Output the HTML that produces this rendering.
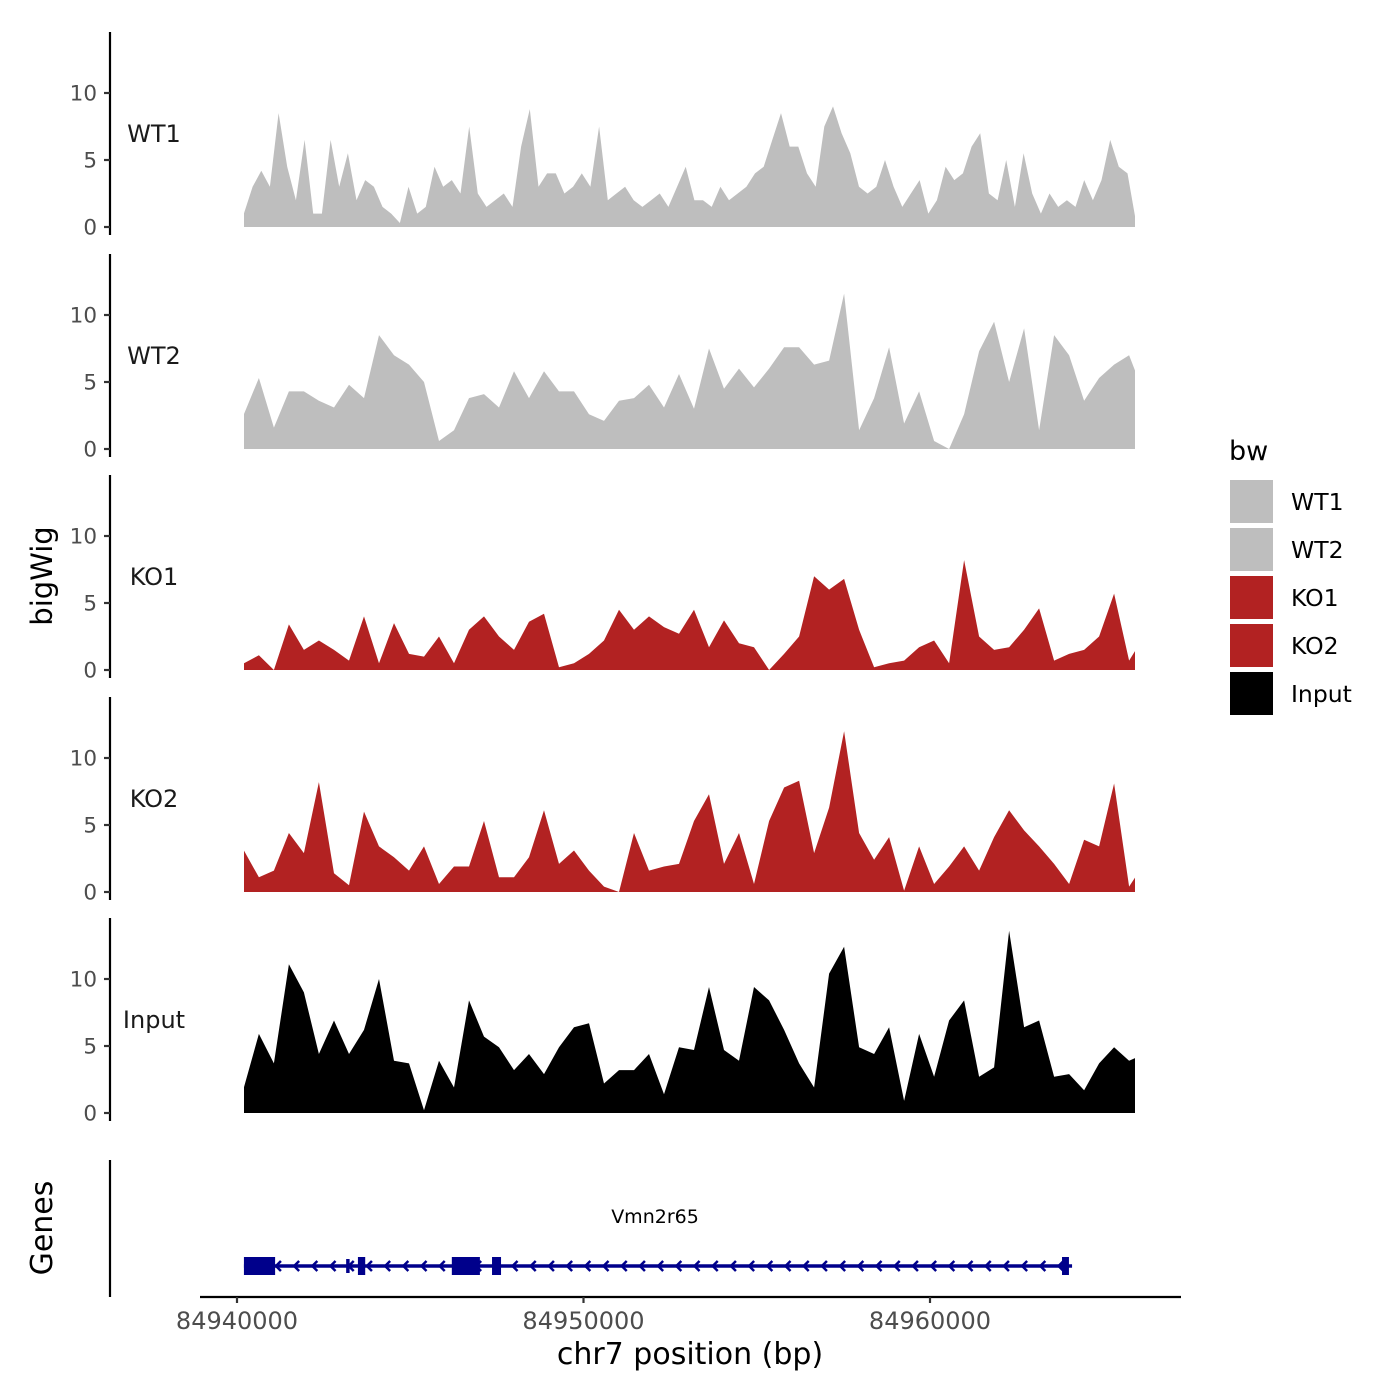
<!DOCTYPE html>
<html><head><meta charset="utf-8"><style>
html,body{margin:0;padding:0;background:#fff;}
svg{display:block;font-family:"DejaVu Sans","Liberation Sans",sans-serif;}
</style></head><body>
<svg id="chart" width="1400" height="1400" viewBox="0 0 1400 1400" xmlns="http://www.w3.org/2000/svg">
<defs><clipPath id="dclip"><rect x="244" y="0" width="891" height="1400"/></clipPath></defs>
<g id="tracks" clip-path="url(#dclip)"></g>
<g id="axes"></g>
<text x="0" y="0" transform="translate(52,576) rotate(-90)" text-anchor="middle" font-size="29" fill="#000">bigWig</text>
<text x="0" y="0" transform="translate(52,1228) rotate(-90)" text-anchor="middle" font-size="30" fill="#000">Genes</text>
<line x1="110" y1="1160" x2="110" y2="1297" stroke="#000" stroke-width="2.2"/>
<g id="gene"></g>
<text x="655" y="1223" text-anchor="middle" font-size="19" fill="#000">Vmn2r65</text>
<line x1="200" y1="1297" x2="1181" y2="1297" stroke="#000" stroke-width="2.2"/>
<g id="xticks"></g>
<text x="690" y="1364" text-anchor="middle" font-size="30" fill="#000">chr7 position (bp)</text>
<g>
<text x="1229" y="460" font-size="27" fill="#000">bw</text>
<g id="legend"></g>
</g>
</svg>
<script>
const trackNames = ["WT1","WT2","KO1","KO2","Input"];
const trackColors = ["#bebebe","#bebebe","#b22222","#b22222","#000000"];
const trackStart = [84940200,84940200,84940200,84940200,84940200];
const trackStep = [250,433,433,433,433];
const wt1Values = [1,3,4.2,3,8.5,4.5,2,6.5,1,1,6.5,3,5.5,2,3.5,3,1.5,1,0.3,3,1,1.5,4.5,3,3.5,2.5,7.5,2.5,1.5,2,2.5,1.5,6,8.8,3,4,4,2.5,3,4,3,7.5,2,2.5,3,2,1.5,2,2.5,1.5,3,4.5,2,2,1.5,3,2,2.5,3,4,4.5,6.5,8.5,6,6,4,3,7.5,9,7,5.5,3,2.5,3,5,3,1.5,2.5,3.5,1,2,4.5,3.5,4,6,7,2.5,2,5,1.5,5.5,2.5,1,2.5,1.5,2,1.5,3.5,2,3.5,6.5,4.5,4,0.3];
const wt2Values = [2.6,5.3,1.6,4.3,4.3,3.6,3.1,4.8,3.8,8.5,7,6.3,5,0.6,1.4,3.8,4.1,3.1,5.8,3.8,5.8,4.3,4.3,2.6,2.1,3.6,3.8,4.8,3.1,5.6,3,7.5,4.5,6,4.6,6,7.6,7.6,6.3,6.6,11.6,1.4,3.8,7.6,1.9,4.3,0.6,0,2.6,7.3,9.5,5,9,1.4,8.5,7,3.6,5.3,6.3,7,4.1];
const ko1Values = [0.5,1.1,0,3.4,1.5,2.2,1.5,0.7,4,0.5,3.5,1.2,1,2.5,0.5,3,4,2.5,1.5,3.6,4.2,0.2,0.5,1.2,2.2,4.5,3,4,3.2,2.7,4.5,1.7,3.7,2,1.7,0,1.2,2.5,7,6,6.8,3,0.2,0.5,0.7,1.7,2.2,0.5,8.2,2.5,1.5,1.7,3,4.6,0.7,1.2,1.5,2.5,5.7,0.7,2.5];
const ko2Values = [3.1,1.1,1.6,4.4,2.9,8.2,1.4,0.5,6,3.4,2.6,1.6,3.4,0.6,1.9,1.9,5.3,1.1,1.1,2.6,6.1,2.1,3.1,1.6,0.4,0,4.4,1.6,1.9,2.1,5.3,7.3,2.1,4.4,0.6,5.3,7.8,8.3,2.9,6.3,12,4.4,2.4,4.1,0.1,3.4,0.6,1.9,3.4,1.6,4.1,6.1,4.6,3.4,2.1,0.6,3.9,3.4,8.1,0.4,2.1];
const inputValues = [1.9,5.9,3.7,11.1,9,4.4,6.9,4.4,6.2,10,3.9,3.7,0.2,3.9,1.9,8.4,5.7,4.9,3.2,4.4,2.9,4.9,6.4,6.7,2.2,3.2,3.2,4.4,1.4,4.9,4.7,9.4,4.7,3.9,9.4,8.4,6.2,3.7,1.9,10.4,12.4,4.9,4.4,6.4,0.9,5.9,2.7,6.9,8.4,2.7,3.4,13.6,6.4,6.9,2.7,2.9,1.7,3.7,4.9,3.9,4.4];
const trackValues = [wt1Values, wt2Values, ko1Values, ko2Values, inputValues];
const yTicks = [0,5,10];
const xTicks = [84940000,84950000,84960000];
const geneStart = 84940200, geneEnd = 84964100;
const exonStarts = [84940200,84943150,84943490,84946200,84947360,84963810];
const exonEnds   = [84941100,84943250,84943700,84947010,84947620,84964010];
const exonTall   = [1,0,1,1,1,1];

const NS = "http://www.w3.org/2000/svg";
function mk(tag, attrs, parent){const e=document.createElementNS(NS,tag);for(const k in attrs)e.setAttribute(k,attrs[k]);parent.appendChild(e);return e;}
function xScale(bp){return 237 + (bp-84940000)*0.03465;}
const zeroY = [227,449,670,892,1113];
const pxPerUnit = 13.4;
function yScale(t,v){return zeroY[t] - v*pxPerUnit;}

const tracksG = document.getElementById('tracks');
const axesG = document.getElementById('axes');
trackValues.forEach((vals,t)=>{
  let d = "M"+xScale(trackStart[t])+","+zeroY[t];
  vals.forEach((v,i)=>{ d += " L"+xScale(trackStart[t]+i*trackStep[t]).toFixed(1)+","+yScale(t,v).toFixed(1); });
  d += " L"+xScale(trackStart[t]+(vals.length-1)*trackStep[t]).toFixed(1)+","+zeroY[t]+" Z";
  const p = mk('path',{d:d,fill:trackColors[t]},tracksG);
  
  
  const ax = mk('line',{x1:110,y1:zeroY[t]-195,x2:110,y2:zeroY[t]+8,stroke:'#000','stroke-width':2.2},axesG);
  
  
  yTicks.forEach(v=>{
    const y = yScale(t,v);
    const tk = mk('line',{x1:104,y1:y,x2:110,y2:y,stroke:'#333','stroke-width':2.2},axesG);
    
    
    const tl = mk('text',{x:97,y:y+7.5,'text-anchor':'end','font-size':21.5,fill:'#4d4d4d'},axesG);
    
    
    tl.textContent = v;
  });
  const lab = mk('text',{x:154,y:zeroY[t]-85,'text-anchor':'middle','font-size':24,fill:'#1a1a1a'},axesG);
  
  
  lab.textContent = trackNames[t];
});

const xg = document.getElementById('xticks');
xTicks.forEach(bp=>{
  const x = xScale(bp);
  const tk = mk('line',{x1:x,y1:1297,x2:x,y2:1303,stroke:'#333','stroke-width':2.2},xg);
  
  
  const tl = mk('text',{x:x,y:1329,'text-anchor':'middle','font-size':24,fill:'#4d4d4d'},xg);
  
  
  tl.textContent = bp;
});

const gg = document.getElementById('gene');
const gy = 1266;
const gl = mk('line',{x1:xScale(geneStart),y1:gy,x2:xScale(geneEnd),y2:gy,stroke:'#00008b','stroke-width':3.5},gg);


for(let x=xScale(geneStart)+32; x<xScale(geneEnd)-5; x+=18.2){
  const a = mk('path',{d:`M${x+5},${gy-5} L${x},${gy} L${x+5},${gy+5}`,fill:'none',stroke:'#00008b','stroke-width':2.5},gg);
  
  
}
exonStarts.forEach((s,i)=>{
  const h = exonTall[i]?18:14;
  const r = mk('rect',{x:xScale(s),y:gy-h/2,width:Math.max(3,xScale(exonEnds[i])-xScale(s)),height:h,fill:'#00008b'},gg);
  
  
});

const lg = document.getElementById('legend');
trackNames.forEach((n,i)=>{
  const y = 480 + i*48;
  const r = mk('rect',{x:1230,y:y,width:43,height:43,fill:trackColors[i]},lg);
  
  
  const t = mk('text',{x:1291,y:y+30,'font-size':23.5,fill:'#000'},lg);
  
  
  t.textContent = n;
});
</script>
</body></html>
